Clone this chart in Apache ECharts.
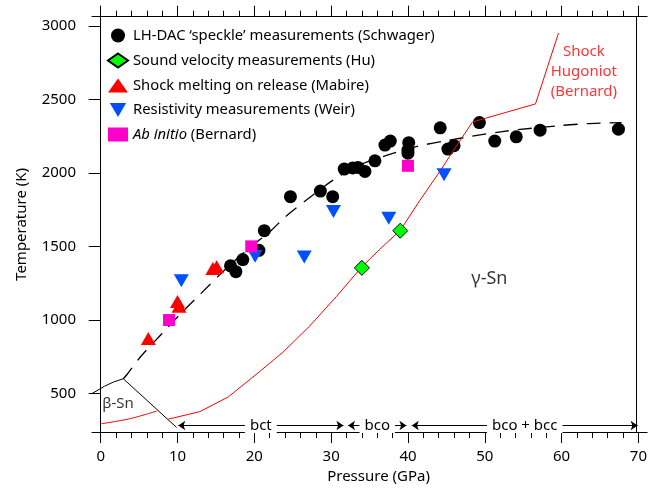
<!DOCTYPE html>
<html>
<head>
<meta charset="utf-8">
<script src="https://cdn.jsdelivr.net/npm/echarts@6/dist/echarts.min.js"></script>
<style>
html,body{margin:0;padding:0;background:#fff;}
#chart{width:650px;height:489px;}
</style>
</head>
<body>
<div id="chart"></div>
<script>
// ---- Data ----
const xTicks = [0, 10, 20, 30, 40, 50, 60, 70];
const xMinorTicks = [2,4,6,8,12,14,16,18,22,24,26,28,32,34,36,38,42,44,46,48,52,54,56,58,62,64,66,68];
const yTicks = [500, 1000, 1500, 2000, 2500, 3000];

const schwagerP = [16.9, 17.6, 18.5, 20.6, 21.3, 24.7, 28.6, 30.2, 31.7, 32.8, 33.5, 34.4, 35.7, 37.0, 37.7, 40.1, 40.0, 40.0, 44.2, 45.2, 46.0, 49.3, 51.3, 54.1, 57.2, 67.4];
const schwagerT = [1369, 1329, 1411, 1474, 1608, 1839, 1877, 1839, 2027, 2034, 2038, 2011, 2083, 2190, 2217, 2206, 2156, 2135, 2307, 2163, 2186, 2343, 2217, 2246, 2291, 2298];

const huP = [34.0, 39.0];
const huT = [1355, 1608];

const mabireP = [6.2, 10.0, 10.2, 14.6, 15.1];
const mabireT = [875, 1127, 1094, 1351, 1362];

const weirP = [10.5, 20.1, 26.5, 30.3, 37.5, 44.7];
const weirT = [1268, 1434, 1429, 1738, 1693, 1989];

const abinitioP = [8.9, 19.6, 40.0];
const abinitioT = [1000, 1501, 2049];

const fitP = [2.94, 3.4, 5.3, 7.9, 10.5, 13.1, 15.9, 19.0, 22.0, 24.2, 27.5, 30.2, 33.5, 37.3, 41.2, 44.5, 52.3, 60.1, 63.6, 67.8];
const fitT = [601, 628, 757, 903, 1048, 1183, 1328, 1476, 1600, 1710, 1845, 1950, 2050, 2121, 2181, 2215, 2282, 2324, 2336, 2343];

const hug1P = [0, 3.8, 7.3];
const hug1T = [294, 329, 381];
const hug2P = [8.8, 12.9, 16.6, 20.7, 23.7, 27.2, 30.7, 33.9, 36.3, 39.0, 41.5, 44.3, 45.4, 48.4, 56.6, 59.6];
const hug2T = [326, 377, 477, 650, 780, 959, 1161, 1357, 1480, 1610, 1810, 2022, 2112, 2347, 2470, 2952];

const betaP = [-1.13, 0.5, 1.64, 2.94, 9.88];
const betaT = [500, 550, 578, 601, 270];

const phaseNames = ['bct', 'bco', 'bco + bcc'];
const phaseStart = [10.1, 32.2, 40.5];
const phaseEnd = [31.6, 39.8, 69.9];
const phaseArrowT = 283;

const legendNames = [
  "LH-DAC \u2018speckle\u2019 measurements (Schwager)",
  "Sound velocity measurements (Hu)",
  "Shock melting on release (Mabire)",
  "Resistivity measurements (Weir)",
  "Ab initio (Bernard)"
];

const zip = (a, b) => a.map((v, i) => [v, b[i]]);

// ---- Chart ----
const FONT = 'Noto Sans';
const X_MIN = -1.13, X_MAX = 71.13, Y_MIN = 238, Y_MAX = 3063;
const chart = echarts.init(document.getElementById('chart'), null, {renderer: 'canvas'});

const baseX = {
  type: 'value', min: X_MIN, max: X_MAX, splitLine: {show: false},
  axisLine: {show: false, lineStyle: {color: '#000', width: 1}},
  axisLabel: {show: false},
  axisTick: {show: false}
};

const option = {
  animation: false,
  backgroundColor: '#fff',
  textStyle: {fontFamily: FONT},
  grid: {left: 92, right: 2, top: 16.7, bottom: 51.7, containLabel: false},
  legend: {
    orient: 'vertical', left: 102, top: 23,
    itemWidth: 20, itemHeight: 14, itemGap: 9.5,
    data: legendNames,
    textStyle: {fontFamily: FONT, fontSize: 14.8, color: '#000',
      rich: {i: {fontFamily: FONT, fontSize: 14.8, fontStyle: 'italic', color: '#000'},
             n: {fontFamily: FONT, fontSize: 14.8, color: '#000'}}},
    formatter: function (name) {
      if (name === legendNames[4]) return '{i|Ab initio}{n| (Bernard)}';
      return name;
    }
  },
  xAxis: [
    Object.assign({}, baseX, {
      position: 'bottom',
      name: 'Pressure (GPa)', nameLocation: 'middle', nameGap: 36,
      nameTextStyle: {fontFamily: FONT, fontSize: 15, color: '#000', padding: [0, 0, 0, 18]},
      axisLine: {show: true, lineStyle: {color: '#000', width: 1}},
      axisTick: {show: true, length: 11, customValues: xTicks, lineStyle: {color: '#000'}},
      axisLabel: {show: true, customValues: xTicks, margin: 17, fontSize: 15, fontFamily: FONT, color: '#000'}
    }),
    Object.assign({}, baseX, {
      position: 'bottom',
      axisTick: {show: true, length: 6, customValues: xMinorTicks, lineStyle: {color: '#000'}}
    }),
    Object.assign({}, baseX, {
      position: 'top',
      axisLine: {show: true, lineStyle: {color: '#000', width: 1}},
      axisTick: {show: true, length: 11, customValues: xTicks, lineStyle: {color: '#000'}}
    }),
    Object.assign({}, baseX, {
      position: 'top',
      axisTick: {show: true, length: 6, customValues: xMinorTicks, lineStyle: {color: '#000'}}
    })
  ],
  yAxis: [
    {
      type: 'value', min: Y_MIN, max: Y_MAX, position: 'left',
      splitLine: {show: false},
      name: 'Temperature (K)', nameLocation: 'middle', nameGap: 63, nameRotate: 90,
      nameTextStyle: {fontFamily: FONT, fontSize: 15, color: '#000'},
      axisLine: {show: true, lineStyle: {color: '#000', width: 1}},
      axisTick: {show: true, length: 12, customValues: yTicks, lineStyle: {color: '#000'}},
      axisLabel: {show: true, customValues: yTicks, margin: 16, fontSize: 15, fontFamily: FONT, color: '#000',
                  formatter: v => String(Math.round(v))}
    },
    {
      type: 'value', min: Y_MIN, max: Y_MAX, position: 'right',
      splitLine: {show: false},
      axisLine: {show: true, lineStyle: {color: '#000', width: 1}},
      axisTick: {show: true, inside: true, length: 4, customValues: yTicks, lineStyle: {color: '#000'}},
      axisLabel: {show: false}
    }
  ],
  series: [
    {
      name: 'beta boundary', type: 'line', data: zip(betaP, betaT), showSymbol: false, smooth: false,
      lineStyle: {color: '#000', width: 1}, silent: true, z: 1,
      markLine: {
        silent: true, symbol: ['arrow', 'arrow'], symbolSize: [7, 7],
        lineStyle: {color: '#000', width: 1, type: 'solid'},
        label: {show: true, position: 'middle', formatter: '{b}', distance: 0, verticalAlign: 'middle',
                fontFamily: FONT, fontSize: 15, color: '#000', backgroundColor: '#fff', padding: [0, 5]},
        emphasis: {disabled: true},
        data: phaseNames.map((n, i) => [{name: n, coord: [phaseStart[i], phaseArrowT]}, {coord: [phaseEnd[i], phaseArrowT]}])
      }
    },
    {
      name: 'frame', type: 'line', data: [], silent: true,
      markLine: {
        silent: true, symbol: ['none', 'none'], label: {show: false},
        lineStyle: {color: '#000', width: 1, type: 'solid'},
        data: [{xAxis: 69.77}]
      }
    },
    {
      name: 'Hugoniot 1', type: 'line', data: zip(hug1P, hug1T), showSymbol: false, smooth: 0.3,
      lineStyle: {color: '#ff0000', width: 1}, silent: true, z: 1
    },
    {
      name: 'Hugoniot 2', type: 'line', data: zip(hug2P, hug2T), showSymbol: false, smooth: false,
      lineStyle: {color: '#ff0000', width: 1}, silent: true, z: 3
    },
    {
      name: legendNames[0], type: 'scatter', data: zip(schwagerP, schwagerT),
      symbol: 'circle', symbolSize: 13, itemStyle: {color: '#000', opacity: 1}, z: 2
    },
    {
      name: 'fit', type: 'line', data: zip(fitP, fitT), showSymbol: false, smooth: 0.3,
      lineStyle: {color: '#000', width: 1.3, type: [14, 9]}, silent: true, z: 2
    },
    {
      name: legendNames[1], type: 'scatter', data: zip(huP, huT),
      symbol: 'diamond', symbolSize: 15, itemStyle: {color: '#00ff00', borderColor: '#000', borderWidth: 1, opacity: 1}, z: 4
    },
    {
      name: legendNames[2], type: 'scatter', data: zip(mabireP, mabireT),
      symbol: 'triangle', symbolSize: [15, 13], itemStyle: {color: '#ff0000', opacity: 1}, z: 4
    },
    {
      name: legendNames[3], type: 'scatter', data: zip(weirP, weirT),
      symbol: 'path://M0,0 L14,0 L7,12 Z', symbolSize: [15, 13], itemStyle: {color: '#0050ff', opacity: 1}, z: 4
    },
    {
      name: legendNames[4], type: 'scatter', data: zip(abinitioP, abinitioT),
      symbol: 'rect', symbolSize: 12, itemStyle: {color: '#ff00cc', opacity: 1}, z: 4
    },
    {
      name: 'annotations', type: 'scatter', symbolSize: 0, silent: true, z: 5,
      label: {show: true, position: 'inside', formatter: '{b}', fontFamily: FONT, color: '#000', fontSize: 15},
      data: [
        {name: '\u03b2-Sn', value: [2.26, 433]},
        {name: '\u03b3-Sn', value: [50.6, 1279], label: {fontSize: 18}},
        {name: 'Shock\nHugoniot\n(Bernard)', value: [62.9, 2687], label: {color: '#ff0000', fontSize: 15, lineHeight: 20, align: 'center'}}
      ]
    }
  ]
};
chart.setOption(option);
</script>
</body>
</html>
